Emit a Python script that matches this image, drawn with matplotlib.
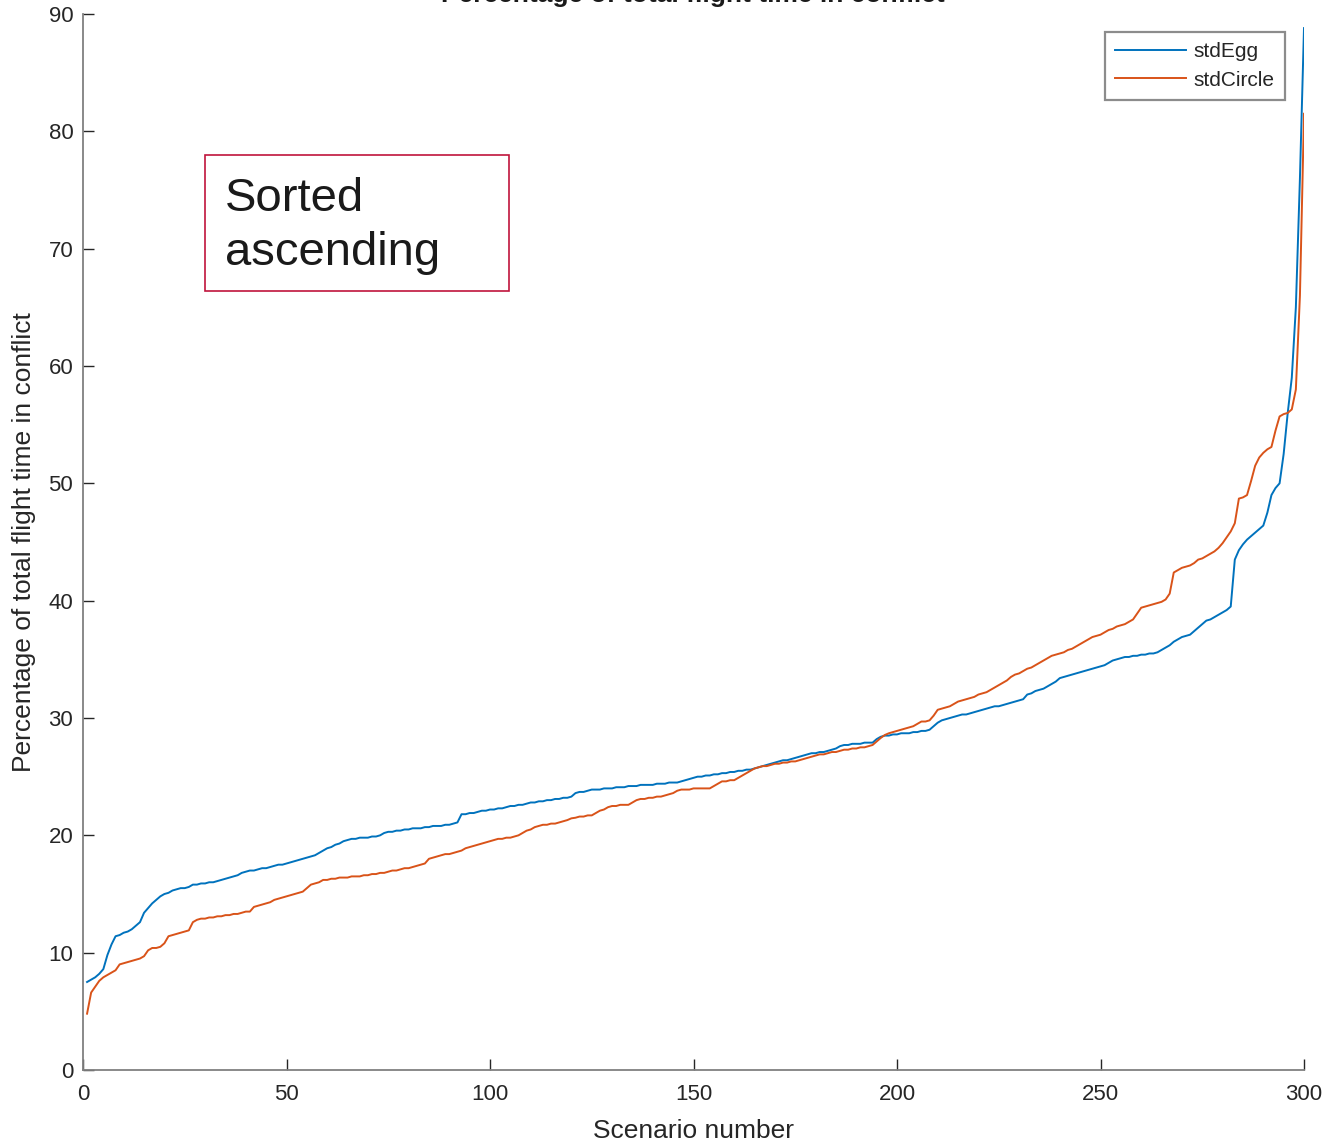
import matplotlib
matplotlib.use("Agg")
import matplotlib.pyplot as plt
from matplotlib.patches import Rectangle
import numpy as np

plt.rcParams['font.family'] = ['Liberation Sans', 'DejaVu Sans']

title = "Percentage of total flight time in conflict"
xlabel = "Scenario number"
ylabel = "Percentage of total flight time in conflict"
series_names = ["stdEgg", "stdCircle"]
annotation = "Sorted\nascending"
xticks = [0, 50, 100, 150, 200, 250, 300]
yticks = [0, 10, 20, 30, 40, 50, 60, 70, 80, 90]

std_egg = [
    7.5, 7.7, 7.9, 8.2, 8.6, 9.8, 10.7, 11.4, 11.5, 11.7,
    11.8, 12.0, 12.3, 12.6, 13.4, 13.8, 14.2, 14.5, 14.8, 15.0,
    15.1, 15.3, 15.4, 15.5, 15.5, 15.6, 15.8, 15.8, 15.9, 15.9,
    16.0, 16.0, 16.1, 16.2, 16.3, 16.4, 16.5, 16.6, 16.8, 16.9,
    17.0, 17.0, 17.1, 17.2, 17.2, 17.3, 17.4, 17.5, 17.5, 17.6,
    17.7, 17.8, 17.9, 18.0, 18.1, 18.2, 18.3, 18.5, 18.7, 18.9,
    19.0, 19.2, 19.3, 19.5, 19.6, 19.7, 19.7, 19.8, 19.8, 19.8,
    19.9, 19.9, 20.0, 20.2, 20.3, 20.3, 20.4, 20.4, 20.5, 20.5,
    20.6, 20.6, 20.6, 20.7, 20.7, 20.8, 20.8, 20.8, 20.9, 20.9,
    21.0, 21.1, 21.8, 21.8, 21.9, 21.9, 22.0, 22.1, 22.1, 22.2,
    22.2, 22.3, 22.3, 22.4, 22.5, 22.5, 22.6, 22.6, 22.7, 22.8,
    22.8, 22.9, 22.9, 23.0, 23.0, 23.1, 23.1, 23.2, 23.2, 23.3,
    23.6, 23.7, 23.7, 23.8, 23.9, 23.9, 23.9, 24.0, 24.0, 24.0,
    24.1, 24.1, 24.1, 24.2, 24.2, 24.2, 24.3, 24.3, 24.3, 24.3,
    24.4, 24.4, 24.4, 24.5, 24.5, 24.5, 24.6, 24.7, 24.8, 24.9,
    25.0, 25.0, 25.1, 25.1, 25.2, 25.2, 25.3, 25.3, 25.4, 25.4,
    25.5, 25.5, 25.6, 25.6, 25.7, 25.8, 25.9, 26.0, 26.1, 26.2,
    26.3, 26.4, 26.4, 26.5, 26.6, 26.7, 26.8, 26.9, 27.0, 27.0,
    27.1, 27.1, 27.2, 27.3, 27.4, 27.6, 27.7, 27.7, 27.8, 27.8,
    27.8, 27.9, 27.9, 27.9, 28.2, 28.4, 28.5, 28.5, 28.6, 28.6,
    28.7, 28.7, 28.7, 28.8, 28.8, 28.9, 28.9, 29.0, 29.3, 29.6,
    29.8, 29.9, 30.0, 30.1, 30.2, 30.3, 30.3, 30.4, 30.5, 30.6,
    30.7, 30.8, 30.9, 31.0, 31.0, 31.1, 31.2, 31.3, 31.4, 31.5,
    31.6, 32.0, 32.1, 32.3, 32.4, 32.5, 32.7, 32.9, 33.1, 33.4,
    33.5, 33.6, 33.7, 33.8, 33.9, 34.0, 34.1, 34.2, 34.3, 34.4,
    34.5, 34.7, 34.9, 35.0, 35.1, 35.2, 35.2, 35.3, 35.3, 35.4,
    35.4, 35.5, 35.5, 35.6, 35.8, 36.0, 36.2, 36.5, 36.7, 36.9,
    37.0, 37.1, 37.4, 37.7, 38.0, 38.3, 38.4, 38.6, 38.8, 39.0,
    39.2, 39.5, 43.5, 44.3, 44.8, 45.2, 45.5, 45.8, 46.1, 46.4,
    47.5, 49.0, 49.6, 50.0, 52.5, 56.0, 59.0, 65.0, 76.0, 88.8,
]

std_circle = [
    4.8, 6.6, 7.1, 7.6, 7.9, 8.1, 8.3, 8.5, 9.0, 9.1,
    9.2, 9.3, 9.4, 9.5, 9.7, 10.2, 10.4, 10.4, 10.5, 10.8,
    11.4, 11.5, 11.6, 11.7, 11.8, 11.9, 12.6, 12.8, 12.9, 12.9,
    13.0, 13.0, 13.1, 13.1, 13.2, 13.2, 13.3, 13.3, 13.4, 13.5,
    13.5, 13.9, 14.0, 14.1, 14.2, 14.3, 14.5, 14.6, 14.7, 14.8,
    14.9, 15.0, 15.1, 15.2, 15.5, 15.8, 15.9, 16.0, 16.2, 16.2,
    16.3, 16.3, 16.4, 16.4, 16.4, 16.5, 16.5, 16.5, 16.6, 16.6,
    16.7, 16.7, 16.8, 16.8, 16.9, 17.0, 17.0, 17.1, 17.2, 17.2,
    17.3, 17.4, 17.5, 17.6, 18.0, 18.1, 18.2, 18.3, 18.4, 18.4,
    18.5, 18.6, 18.7, 18.9, 19.0, 19.1, 19.2, 19.3, 19.4, 19.5,
    19.6, 19.7, 19.7, 19.8, 19.8, 19.9, 20.0, 20.2, 20.4, 20.5,
    20.7, 20.8, 20.9, 20.9, 21.0, 21.0, 21.1, 21.2, 21.3, 21.45,
    21.5, 21.6, 21.6, 21.7, 21.7, 21.9, 22.1, 22.2, 22.4, 22.5,
    22.5, 22.6, 22.6, 22.6, 22.8, 23.0, 23.1, 23.1, 23.2, 23.2,
    23.3, 23.3, 23.4, 23.5, 23.6, 23.8, 23.9, 23.9, 23.9, 24.0,
    24.0, 24.0, 24.0, 24.0, 24.2, 24.4, 24.6, 24.6, 24.7, 24.7,
    24.9, 25.1, 25.3, 25.5, 25.7, 25.8, 25.9, 25.9, 26.0, 26.1,
    26.1, 26.2, 26.2, 26.3, 26.3, 26.4, 26.5, 26.6, 26.7, 26.8,
    26.9, 26.9, 27.0, 27.1, 27.1, 27.2, 27.3, 27.3, 27.4, 27.4,
    27.5, 27.5, 27.6, 27.7, 28.0, 28.3, 28.55, 28.7, 28.8, 28.9,
    29.0, 29.1, 29.2, 29.3, 29.5, 29.7, 29.7, 29.8, 30.2, 30.7,
    30.8, 30.9, 31.0, 31.2, 31.4, 31.5, 31.6, 31.7, 31.8, 32.0,
    32.1, 32.2, 32.4, 32.6, 32.8, 33.0, 33.2, 33.5, 33.7, 33.8,
    34.0, 34.2, 34.3, 34.5, 34.7, 34.9, 35.1, 35.3, 35.4, 35.5,
    35.6, 35.8, 35.9, 36.1, 36.3, 36.5, 36.7, 36.9, 37.0, 37.1,
    37.3, 37.5, 37.6, 37.8, 37.9, 38.0, 38.2, 38.4, 38.9, 39.4,
    39.5, 39.6, 39.7, 39.8, 39.9, 40.1, 40.6, 42.4, 42.6, 42.8,
    42.9, 43.0, 43.2, 43.5, 43.6, 43.8, 44.0, 44.2, 44.5, 44.9,
    45.4, 45.9, 46.6, 48.7, 48.8, 49.0, 50.2, 51.5, 52.2, 52.6,
    52.9, 53.1, 54.5, 55.7, 55.9, 56.0, 56.3, 58.0, 66.0, 81.5,
]

scenarios = np.arange(1, len(std_egg) + 1)

W, H = 1329, 1146
fig = plt.figure(figsize=(W / 100, H / 100), dpi=100)
ax = fig.add_axes([83 / W, 1 - 1070 / H, (1304 - 83) / W, (1070 - 14) / H])

ax.plot(scenarios, std_egg, color='#0072BD', lw=1.4, label=series_names[0])
ax.plot(scenarios, std_circle, color='#D95319', lw=1.4, label=series_names[1])

ax.set_xlim(0, 300)
ax.set_ylim(0, 90)
ax.set_xticks(xticks)
ax.set_yticks(yticks)
axcol = '#262626'
for s in ['top', 'right']:
    ax.spines[s].set_visible(False)
for s in ['left', 'bottom']:
    ax.spines[s].set_color('#808080')
    ax.spines[s].set_linewidth(1.3)
ax.tick_params(direction='in', length=8, width=1.0, color=axcol,
               labelsize=16, labelcolor=axcol)
ax.tick_params(axis='x', pad=10)
ax.tick_params(axis='y', pad=7)

ax.set_xlabel(xlabel, fontsize=19, color=axcol, labelpad=10)
ax.set_ylabel(ylabel, fontsize=19, color=axcol, labelpad=9)

fig.text(0.521, 1 - 2 / H, title, ha='center', va='baseline',
         fontsize=19, fontweight='bold', color='#1a1a1a')

leg = ax.legend(loc='upper right',
                bbox_to_anchor=((1285 - 83) / (1304 - 83), (1070 - 32) / (1070 - 14)),
                fontsize=15, frameon=True, fancybox=False, handlelength=3.4,
                handletextpad=0.35, borderpad=0.5, labelspacing=0.45, borderaxespad=0)
leg.get_frame().set_edgecolor('#707070')
leg.get_frame().set_linewidth(1.6)
for t in leg.get_texts():
    t.set_color(axcol)

fig.add_artist(Rectangle((205 / W, 1 - 291 / H), 304 / W, 136 / H,
                         transform=fig.transFigure, fill=False,
                         edgecolor='#C0143C', linewidth=1.2))
fig.text(225 / W, 1 - 226 / H, annotation, ha='left', va='center',
         fontsize=34, color='#1a1a1a', linespacing=1.3)

fig.savefig('out.png', dpi=100)
